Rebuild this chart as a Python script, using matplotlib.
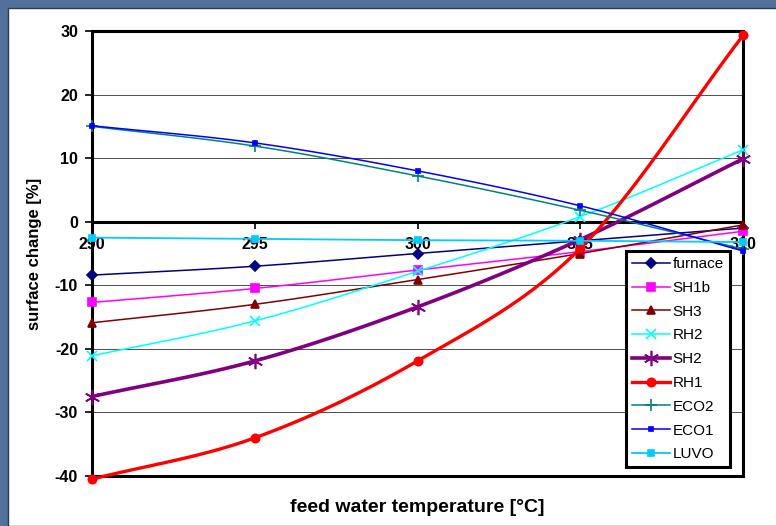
import numpy as np
import matplotlib
matplotlib.use("Agg")
import matplotlib.pyplot as plt
from matplotlib.patches import Rectangle

plt.rcParams['font.family'] = ['Liberation Sans', 'DejaVu Sans']
plt.rcParams['axes.unicode_minus'] = False

# ==== data ====
temps = [290, 295, 300, 305, 310]
furnace = [-8.4, -7.0, -5.0, -3.0, -1.0]
sh1b = [-12.7, -10.5, -7.6, -4.7, -1.5]
sh3 = [-15.9, -13.0, -9.1, -5.0, -0.5]
rh2 = [-21.1, -15.6, -7.8, 0.8, 11.3]
sh2 = [-27.5, -21.9, -13.4, -2.8, 9.9]
rh1 = [-40.5, -34.0, -21.9, -4.2, 29.3]
eco2 = [15.0, 11.9, 7.2, 1.8, -4.3]
eco1 = [15.1, 12.4, 8.0, 2.5, -4.6]
luvo = [-2.5, -2.7, -2.9, -3.0, -3.2]

series_names = ["furnace", "SH1b", "SH3", "RH2", "SH2", "RH1", "ECO2", "ECO1", "LUVO"]
series_vals = [furnace, sh1b, sh3, rh2, sh2, rh1, eco2, eco1, luvo]
colors = ["#000080", "#ff00ff", "#800000", "#00ffff", "#800080", "#ff0000", "#008080", "#0000ff", "#00ccff"]
markers = ["D", "s", "^", "x", (6, 2, 0), "o", "+", "s", "s"]
msizes = [5, 6, 6, 7, 11, 6, 8, 3.5, 4]
lwidths = [1.1, 1.1, 1.1, 1.1, 2.6, 2.4, 1.1, 1.1, 1.3]

N = 20


def smooth_line(x, y, n=N):
    # Excel-style smoothed line (Catmull-Rom through the data points)
    p = np.column_stack([x, y]).astype(float)
    p = np.vstack([2 * p[0] - p[1], p, 2 * p[-1] - p[-2]])
    t = np.linspace(0, 1, n, endpoint=False)[:, None]
    out = []
    for i in range(1, len(p) - 2):
        p0, p1, p2, p3 = p[i - 1], p[i], p[i + 1], p[i + 2]
        seg = 0.5 * (2 * p1 + (-p0 + p2) * t + (2 * p0 - 5 * p1 + 4 * p2 - p3) * t ** 2
                     + (-p0 + 3 * p1 - 3 * p2 + p3) * t ** 3)
        out.append(seg)
    out.append(p[-2][None, :])
    out = np.vstack(out)
    return out[:, 0], out[:, 1]


W, H = 776, 526
fig = plt.figure(figsize=(W / 100, H / 100), dpi=100)
fig.patch.set_facecolor("#52709a")
fig.patches.append(Rectangle((8 / W, 0), 1, 1 - 8 / H, transform=fig.transFigure,
                             facecolor="white", edgecolor="#2a3b55", lw=1.0, zorder=-10))

ax = fig.add_axes([92 / W, 1 - 476 / H, (743 - 92) / W, (476 - 31) / H])
ax.set_facecolor("white")

for name, vals, c, m, ms, lw in zip(series_names, series_vals, colors, markers, msizes, lwidths):
    xs, ys = smooth_line(temps, vals)
    ax.plot(xs, ys, color=c, lw=lw, marker=m, markersize=ms, markevery=N,
            markeredgecolor=c, markerfacecolor=c, markeredgewidth=1.2, label=name,
            clip_on=False, zorder=3)

ax.set_xlim(290, 310)
ax.set_ylim(-40, 30)
ax.set_xticks(temps)
ax.set_yticks(np.arange(-40, 31, 10))
ax.yaxis.grid(True, color="0.3", lw=0.7)
ax.set_axisbelow(True)

for s in ax.spines.values():
    s.set_linewidth(2.2)
ax.spines["bottom"].set_position(("data", 0))
ax.axhline(-40, color="black", lw=2.2, clip_on=False, zorder=2.5)

ax.tick_params(axis="both", direction="out", length=5, width=1.2, labelsize=11.5)
ax.tick_params(axis="x", pad=6)
ax.tick_params(axis="y", pad=5)
for lab in ax.get_xticklabels() + ax.get_yticklabels():
    lab.set_fontweight("bold")

ax.set_ylabel("surface change [%]", fontsize=12, fontweight="bold", labelpad=9)
fig.text(417 / W, 1 - 508 / H, "feed water temperature [°C]", ha="center", va="center",
         fontsize=14, fontweight="bold")

leg = ax.legend(loc="upper left", bbox_to_anchor=(626 / W, 1 - 251 / H),
                bbox_transform=fig.transFigure, borderaxespad=0, fancybox=False,
                framealpha=1, edgecolor="black", fontsize=11, handlelength=2.5,
                handletextpad=0.15, labelspacing=0.64, borderpad=0.4)
leg.get_frame().set_linewidth(2.2)
leg.set_zorder(10)

fig.savefig("out.png", dpi=100, facecolor=fig.get_facecolor())
